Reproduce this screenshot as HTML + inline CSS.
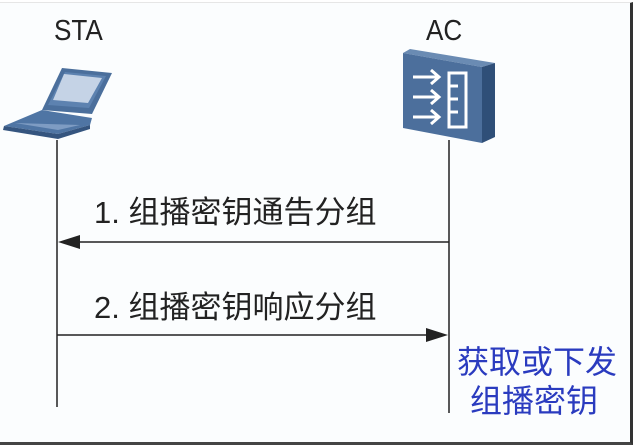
<!DOCTYPE html>
<html><head><meta charset="utf-8"><style>
body{margin:0;width:640px;height:448px;background:#fff;overflow:hidden;position:relative;font-family:"Liberation Sans","Noto Sans CJK SC",sans-serif}
.t{position:absolute;white-space:nowrap;color:#222;line-height:1}
</style></head><body>
<div style="position:absolute;left:0;top:2px;width:630px;height:439px;background:#fbfdfe;border-right:3px solid #333;border-bottom:3px solid #444;border-top:1px solid #e6e6e6"></div>
<div class="t" style="left:54px;top:17px;font-size:29px;transform:scaleX(0.9);transform-origin:left">STA</div>
<div class="t" style="left:426px;top:17px;font-size:29px;transform:scaleX(0.9);transform-origin:left">AC</div>
<svg width="640" height="448" style="position:absolute;left:0;top:0">
<polygon points="62,68 112,73 92,114 42,110" fill="#4b6f9c"/>
<polygon points="65,72 106,76 89,108 48,105" fill="#5d82b0"/>
<polygon points="64,74 102,78 88,103 53,100" fill="#c5d3e6"/>
<polygon points="42,110 92,118 90,125 58,134 4,126" fill="#4f75a4"/>
<polygon points="4,126 58,134 90,125 90,129 58,139 3,130" fill="#35557f"/>
<polygon points="15,123 80,125 58,130" fill="#7e9cc3"/>
<polygon points="403,53 410,49 495,63 482,67" fill="#6a8bb3"/>
<polygon points="482,67 495,63 495,137 482,143" fill="#2f4f78"/>
<polygon points="403,53 482,67 482,143 403,128" fill="#4c6f9c"/>
<g stroke="#fff" stroke-width="3" fill="none">
<path d="M413,77 H437 M413,97 H437 M413,117 H437"/>
<path d="M431,70 L439,77 L431,84 M431,90 L439,97 L431,104 M431,110 L439,117 L431,124"/>
<rect x="449" y="73" width="17" height="54"/>
<path d="M449,86 H458 M449,99 H458 M449,112 H458"/>
</g>
<g stroke="#222" stroke-width="1.5">
<line x1="57" y1="140" x2="57" y2="407"/>
<line x1="449" y1="140" x2="449" y2="413"/>
<line x1="66" y1="242" x2="449" y2="242"/>
<line x1="57" y1="335" x2="436" y2="335"/>
</g>
<polygon points="58,242 80,235 80,249" fill="#222"/>
<polygon points="448,335 426,328 426,342" fill="#222"/>
</svg>
<div class="t" style="left:94px;top:197px;font-size:31px">1. 组播密钥通告分组</div>
<div class="t" style="left:94px;top:292px;font-size:31px">2. 组播密钥响应分组</div>
<div class="t" style="left:457px;top:346px;font-size:32px;color:#2a3bbf">获取或下发</div>
<div class="t" style="left:470px;top:385px;font-size:32px;color:#2a3bbf">组播密钥</div>
</body></html>
